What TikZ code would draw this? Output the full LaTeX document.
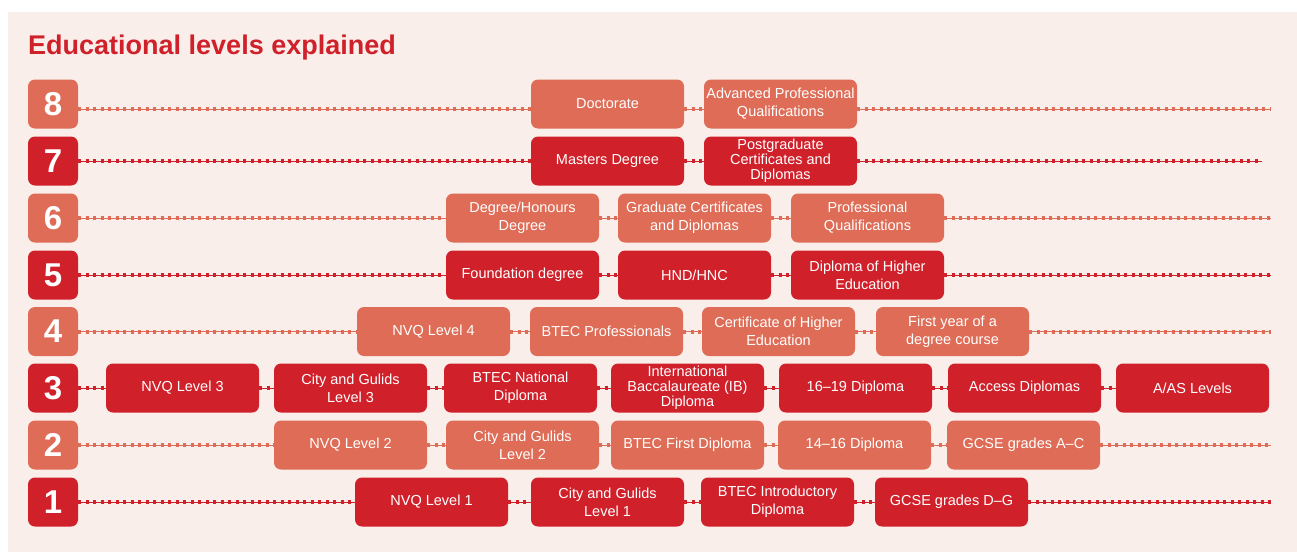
\documentclass[tikz,border=0pt]{standalone}
\usepackage{fontspec}
\setmainfont{Liberation Sans}
\definecolor{dk}{RGB}{208,32,42}
\definecolor{lt}{RGB}{222,108,86}
\definecolor{bg}{RGB}{250,238,234}
\begin{document}
\begin{tikzpicture}[x=1pt,y=-1pt,
  prog/.style={rounded corners=7pt, minimum width=153pt, minimum height=49pt, inner sep=1pt, text=white, align=center, font=\fontsize{14.5}{18}\selectfont, fill=#1},
  numbox/.style={rounded corners=7pt, minimum width=50pt, minimum height=49pt, inner sep=0pt, text=white, font=\fontsize{33}{33}\bfseries\selectfont, fill=#1},
  three/.style={font=\fontsize{14.5}{15}\selectfont},
  dotline/.style={draw=#1, line width=0.6pt, postaction={draw=#1, line width=4pt, dash pattern=on 3.2pt off 4.3pt}}]
\useasboundingbox (0,0) rectangle (1297,552);
\fill[white] (0,0) rectangle (1297,552);
\fill[bg] (8,12) rectangle (1297,552);
\node[anchor=base west, text=dk, font=\fontsize{27}{27}\bfseries\selectfont, inner sep=0pt] (title) at (28,54) {Educational levels explained};

% numbers
\node[numbox=lt] (n8) at (53,104) {8};
\node[numbox=dk] (n7) at (53,161) {7};
\node[numbox=lt] (n6) at (53,218) {6};
\node[numbox=dk] (n5) at (53,275) {5};
\node[numbox=lt] (n4) at (53,331.5) {4};
\node[numbox=dk] (n3) at (53,388) {3};
\node[numbox=lt] (n2) at (53,445) {2};
\node[numbox=dk] (n1) at (53,502) {1};

% row 8
\node[prog=lt] (a8) at (607.5,104) {Doctorate};
\node[prog=lt] (b8) at (780.5,104) {Advanced Professional\\Qualifications};
% row 7
\node[prog=dk] (a7) at (607.5,161) {Masters Degree};
\node[prog=dk,three] (b7) at (780.5,161) {Postgraduate\\Certificates and\\Diplomas};
% row 6
\node[prog=lt] (a6) at (522.5,218) {Degree/Honours\\Degree};
\node[prog=lt] (b6) at (694.5,218) {Graduate Certificates\\and Diplomas};
\node[prog=lt] (c6) at (867.5,218) {Professional\\Qualifications};
% row 5
\node[prog=dk] (a5) at (522.5,275) {Foundation degree};
\node[prog=dk] (b5) at (694.5,275) {HND/HNC};
\node[prog=dk] (c5) at (867.5,275) {Diploma of Higher\\Education};
% row 4
\node[prog=lt] (a4) at (433.5,331.5) {NVQ Level 4};
\node[prog=lt] (b4) at (606.5,331.5) {BTEC Professionals};
\node[prog=lt] (c4) at (778.5,331.5) {Certificate of Higher\\Education};
\node[prog=lt] (d4) at (952.5,331.5) {First year of a\\degree course};
% row 3
\node[prog=dk] (a3) at (182.5,388) {NVQ Level 3};
\node[prog=dk] (b3) at (350.5,388) {City and Gulids\\Level 3};
\node[prog=dk] (c3) at (520.5,388) {BTEC National\\Diploma};
\node[prog=dk,three] (d3) at (687.5,388) {International\\Baccalaureate (IB)\\Diploma};
\node[prog=dk] (e3) at (855.5,388) {16–19 Diploma};
\node[prog=dk] (f3) at (1024.5,388) {Access Diplomas};
\node[prog=dk] (g3) at (1192.5,388) {A/AS Levels};
% row 2
\node[prog=lt] (a2) at (350.5,445) {NVQ Level 2};
\node[prog=lt] (b2) at (522.5,445) {City and Gulids\\Level 2};
\node[prog=lt] (c2) at (687.5,445) {BTEC First Diploma};
\node[prog=lt] (d2) at (854.5,445) {14–16 Diploma};
\node[prog=lt] (e2) at (1023.5,445) {GCSE grades A–C};
% row 1
\node[prog=dk] (a1) at (431.5,502) {NVQ Level 1};
\node[prog=dk] (b1) at (607.5,502) {City and Gulids\\Level 1};
\node[prog=dk] (c1) at (777.5,502) {BTEC Introductory\\Diploma};
\node[prog=dk] (d1) at (951.5,502) {GCSE grades D–G};

% line ends
\coordinate (z8) at (1271,109);
\coordinate (z7) at (1262,161);
\coordinate (z6) at (1271,218);
\coordinate (z5) at (1271,275);
\coordinate (z4) at (1271,331.5);
\coordinate (z2) at (1271,445);
\coordinate (z1) at (1271,502);

% dotted connectors
\draw[dotline=lt] ([yshift=-5pt]n8.east) -- ([yshift=-5pt]a8.west);
\draw[dotline=lt] ([yshift=-5pt]a8.east) -- ([yshift=-5pt]b8.west);
\draw[dotline=lt] ([yshift=-5pt]b8.east) -- (z8);

\draw[dotline=dk] (n7.east) -- (a7.west);
\draw[dotline=dk] (a7.east) -- (b7.west);
\draw[dotline=dk] (b7.east) -- (z7);

\draw[dotline=lt] (n6.east) -- (a6.west);
\draw[dotline=lt] (a6.east) -- (b6.west);
\draw[dotline=lt] (b6.east) -- (c6.west);
\draw[dotline=lt] (c6.east) -- (z6);

\draw[dotline=dk] (n5.east) -- (a5.west);
\draw[dotline=dk] (a5.east) -- (b5.west);
\draw[dotline=dk] (b5.east) -- (c5.west);
\draw[dotline=dk] (c5.east) -- (z5);

\draw[dotline=lt] (n4.east) -- (a4.west);
\draw[dotline=lt] (a4.east) -- (b4.west);
\draw[dotline=lt] (b4.east) -- (c4.west);
\draw[dotline=lt] (c4.east) -- (d4.west);
\draw[dotline=lt] (d4.east) -- (z4);

\draw[dotline=dk] (n3.east) -- (a3.west);
\draw[dotline=dk] (a3.east) -- (b3.west);
\draw[dotline=dk] (b3.east) -- (c3.west);
\draw[dotline=dk] (c3.east) -- (d3.west);
\draw[dotline=dk] (d3.east) -- (e3.west);
\draw[dotline=dk] (e3.east) -- (f3.west);
\draw[dotline=dk] (f3.east) -- (g3.west);

\draw[dotline=lt] (n2.east) -- (a2.west);
\draw[dotline=lt] (a2.east) -- (b2.west);
\draw[dotline=lt] (b2.east) -- (c2.west);
\draw[dotline=lt] (c2.east) -- (d2.west);
\draw[dotline=lt] (d2.east) -- (e2.west);
\draw[dotline=lt] (e2.east) -- (z2);

\draw[dotline=dk] (n1.east) -- (a1.west);
\draw[dotline=dk] (a1.east) -- (b1.west);
\draw[dotline=dk] (b1.east) -- (c1.west);
\draw[dotline=dk] (c1.east) -- (d1.west);
\draw[dotline=dk] (d1.east) -- (z1);
\end{tikzpicture}
\end{document}
